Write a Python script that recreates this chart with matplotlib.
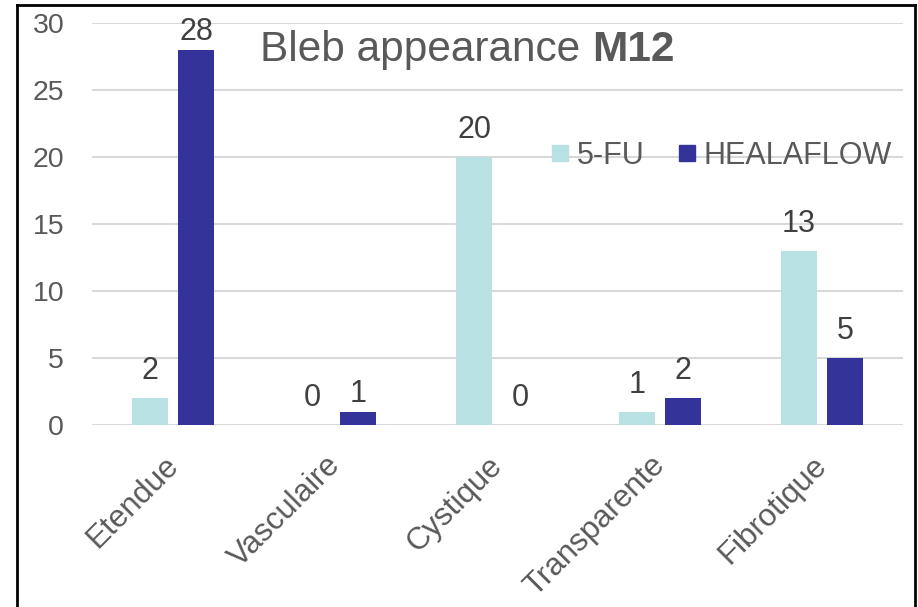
import matplotlib
matplotlib.use("Agg")
import matplotlib.pyplot as plt
import numpy as np
from matplotlib.lines import Line2D
from matplotlib.transforms import ScaledTranslation

categories = ["Etendue", "Vasculaire", "Cystique", "Transparente", "Fibrotique"]
fu_values = [2, 0, 20, 1, 13]
heal_values = [28, 1, 0, 2, 5]
series_names = ["5-FU", "HEALAFLOW"]
yticks = [0, 5, 10, 15, 20, 25, 30]

plt.rcParams['font.family'] = ['Liberation Sans', 'DejaVu Sans']

fig = plt.figure(figsize=(9.18, 6.07), dpi=100)
ax = fig.add_axes([0.1002, 0.2998, 0.8835, 0.6628])

x = np.arange(len(categories))
w = 0.222
off = 0.142
c1 = '#B8E1E4'
c2 = '#333399'
b1 = ax.bar(x - off, fu_values, w, color=c1, label=series_names[0], zorder=3)
b2 = ax.bar(x + off, heal_values, w, color=c2, label=series_names[1], zorder=3)

# label offsets (points) : default and a few tighter placements as in the original
label_gap = 8.5
tight = {(1, 0): 2.0, (1, 1): 2.0}
for si, (bars, vals) in enumerate(((b1, fu_values), (b2, heal_values))):
    for ci, (b, v) in enumerate(zip(bars, vals)):
        ax.annotate(str(v), (b.get_x() + b.get_width() / 2, v),
                    xytext=(0, tight.get((si, ci), label_gap)),
                    textcoords='offset points', ha='center', va='bottom',
                    fontsize=22, color='#404040', annotation_clip=False)

ax.set_xlim(-0.5, len(categories) - 0.5)
ax.set_ylim(0, 30)
ax.set_yticks(yticks)
ax.set_yticklabels([str(t) for t in yticks], fontsize=20.5, color='#595959')
ax.set_xticks(x)
ax.set_xticklabels(categories, rotation=45, ha='right', rotation_mode='anchor',
                   fontsize=22.5, color='#595959')
ax.tick_params(axis='both', length=0)
ax.tick_params(axis='x', pad=19)
ax.tick_params(axis='y', pad=20)
for lab in ax.get_xticklabels():
    lab.set_transform(lab.get_transform() + ScaledTranslation(-0.1, 0.01, fig.dpi_scale_trans))
for s in ax.spines.values():
    s.set_visible(False)
ax.yaxis.grid(True, color='#D9D9D9', linewidth=1.5, zorder=0)
ax.set_axisbelow(True)

t = fig.text(0.2832, 0.918, "Bleb appearance ", fontsize=30.5, color='#595959',
             ha='left', va='center')
fig.canvas.draw()
bb = t.get_window_extent()
fig.text(bb.x1 / fig.bbox.width, 0.918, "M12", fontsize=30.5, color='#595959',
         fontweight='bold', ha='left', va='center')

handles = [Line2D([], [], marker='s', linestyle='none', markersize=11.5, color=c1),
           Line2D([], [], marker='s', linestyle='none', markersize=11.5, color=c2)]
fig.legend(handles, series_names, loc='center', bbox_to_anchor=(0.784, 0.743),
           ncol=2, frameon=False, fontsize=22, labelcolor='#595959',
           handlelength=0.8, handletextpad=0.15, columnspacing=1.0)

fig.add_artist(Line2D([16.5 / 918, 16.5 / 918], [0, 1 - 5 / 607], color='black',
                      linewidth=2, transform=fig.transFigure))
fig.add_artist(Line2D([16.5 / 918, 915 / 918], [1 - 5 / 607, 1 - 5 / 607], color='black',
                      linewidth=2, transform=fig.transFigure))
fig.add_artist(Line2D([915 / 918, 915 / 918], [0, 1 - 5 / 607], color='black',
                      linewidth=2, transform=fig.transFigure))

fig.savefig("out.png", dpi=100)
